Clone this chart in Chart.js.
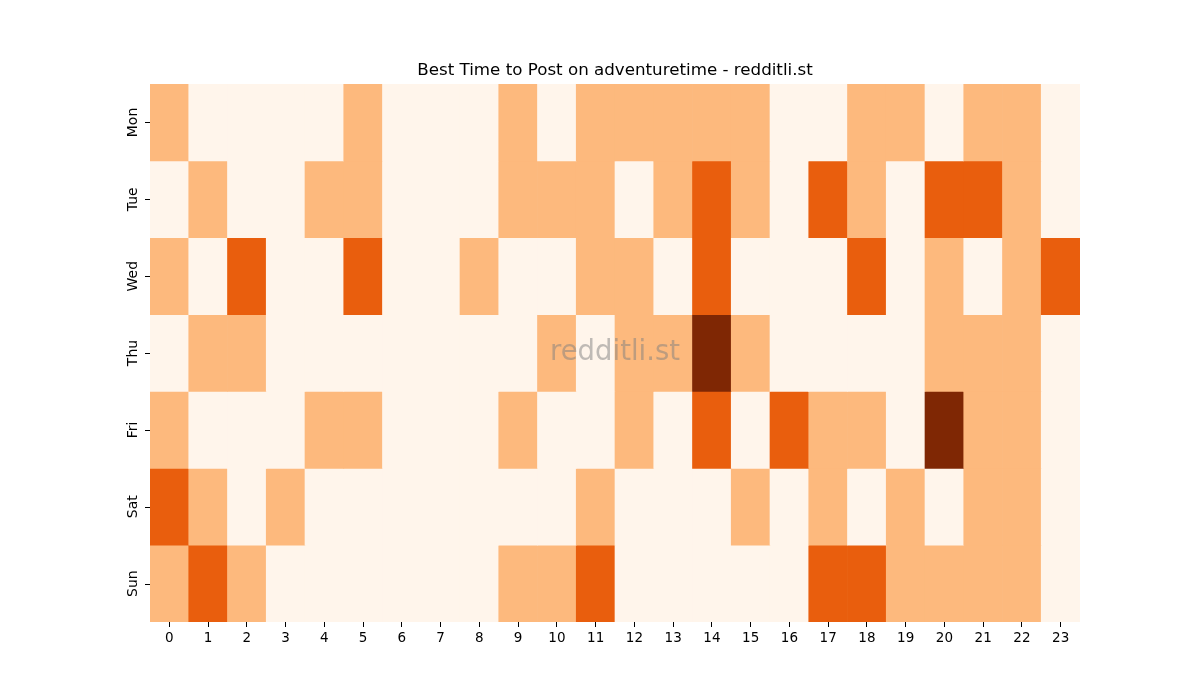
<!DOCTYPE html>
<html>
<head>
<meta charset="utf-8">
<script src="https://cdn.jsdelivr.net/npm/chart.js@4"></script>
<style>
html,body{margin:0;padding:0;background:#fff;}
#wrap{width:1200px;height:700px;}
</style>
</head>
<body>
<div id="wrap"><canvas id="c" width="1200" height="700"></canvas></div>
<script>
const hours = ["0","1","2","3","4","5","6","7","8","9","10","11","12","13","14","15","16","17","18","19","20","21","22","23"];
const days = ["Mon","Tue","Wed","Thu","Fri","Sat","Sun"];
const mon = [1,0,0,0,0,1,0,0,0,1,0,1,1,1,1,1,0,0,1,1,0,1,1,0];
const tue = [0,1,0,0,1,1,0,0,0,1,1,1,0,1,2,1,0,2,1,0,2,2,1,0];
const wed = [1,0,2,0,0,2,0,0,1,0,0,1,1,0,2,0,0,0,2,0,1,0,1,2];
const thu = [0,1,1,0,0,0,0,0,0,0,1,0,1,1,3,1,0,0,0,0,1,1,1,0];
const fri = [1,0,0,0,1,1,0,0,0,1,0,0,1,0,2,0,2,1,1,0,3,1,1,0];
const sat = [2,1,0,1,0,0,0,0,0,0,0,1,0,0,0,1,0,1,0,1,0,1,1,0];
const sun = [1,2,1,0,0,0,0,0,0,1,1,2,0,0,0,0,0,2,2,1,1,1,1,0];
const rows = [mon, tue, wed, thu, fri, sat, sun];
const palette = ["#fff5eb", "#fdb97d", "#e95e0d", "#7f2704"];

const datasets = rows.map((vals, d) => ({
  label: days[d],
  data: vals.map(() => [d, d + 1]),
  backgroundColor: vals.map(v => palette[v]),
  borderColor: vals.map(v => palette[v]),
  borderWidth: 0,
  barPercentage: 1,
  categoryPercentage: 1,
  grouped: false
}));

const overlay = {
  id: 'overlay',
  afterDatasetsDraw(chart) {
    const ctx = chart.ctx;
    const ys = chart.scales.y;
    const ca = chart.chartArea;
    ctx.save();
    ctx.strokeStyle = '#000';
    ctx.lineWidth = 1;
    ctx.fillStyle = '#000';
    ctx.font = '14px "DejaVu Sans"';
    ctx.textAlign = 'center';
    ctx.textBaseline = 'middle';
    days.forEach((lab, i) => {
      const y = ys.getPixelForValue(i + 0.5);
      ctx.beginPath();
      ctx.moveTo(ca.left - 5, Math.round(y) + 0.5);
      ctx.lineTo(ca.left, Math.round(y) + 0.5);
      ctx.stroke();
      ctx.save();
      ctx.translate(ca.left - 17, y);
      ctx.rotate(-Math.PI / 2);
      ctx.fillText(lab, 0, 0);
      ctx.restore();
    });
    ctx.font = '27.5px "DejaVu Sans"';
    ctx.fillStyle = 'rgba(128,128,128,0.5)';
    ctx.fillText('redditli.st', (ca.left + ca.right) / 2, (ca.top + ca.bottom) / 2);
    ctx.restore();
  }
};

new Chart(document.getElementById('c'), {
  type: 'bar',
  data: { labels: hours, datasets },
  options: {
    responsive: false,
    animation: false,
    layout: { padding: { left: 150, right: 120, top: 61, bottom: 38 } },
    plugins: {
      legend: { display: false },
      tooltip: { enabled: false },
      title: {
        display: true,
        text: 'Best Time to Post on adventuretime - redditli.st',
        color: '#000',
        font: { family: 'DejaVu Sans', size: 16.7, weight: 'normal' },
        padding: { top: 0, bottom: 3 }
      }
    },
    scales: {
      x: {
        type: 'category',
        offset: true,
        grid: { display: true, offset: false, drawOnChartArea: false, tickLength: 5, color: '#000', tickColor: '#000' },
        border: { display: false },
        ticks: { color: '#000', padding: 3, maxRotation: 0, autoSkip: false, font: { family: 'DejaVu Sans', size: 13.5 } },
        afterFit(s) { s.height = 40; }
      },
      y: {
        display: false,
        min: 0,
        max: 7,
        reverse: true
      }
    }
  },
  plugins: [overlay]
});
</script>
</body>
</html>
